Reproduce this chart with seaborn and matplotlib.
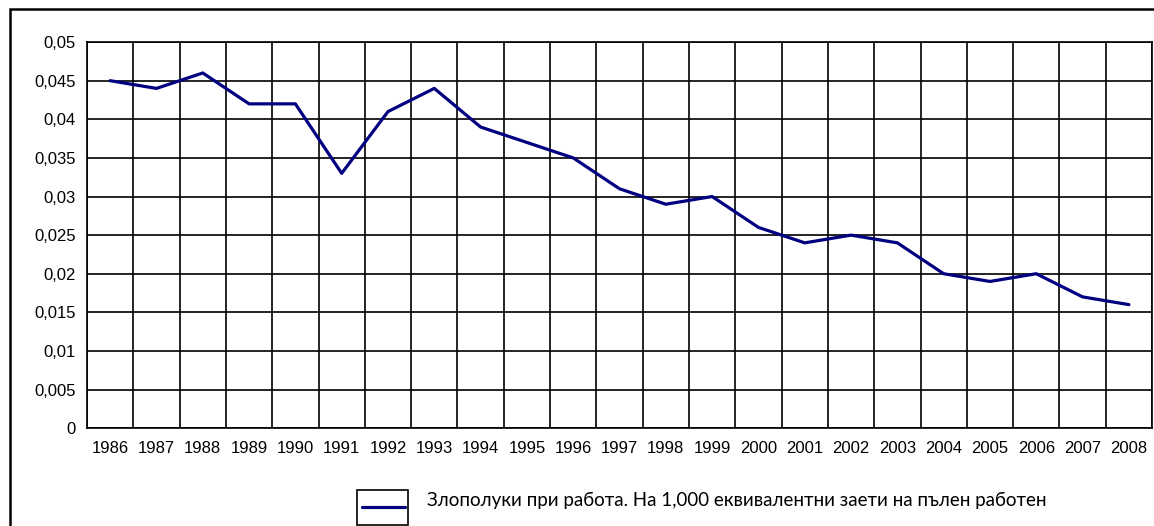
import numpy as np
import pandas as pd
import seaborn as sns
import matplotlib.pyplot as plt
from matplotlib.patches import Rectangle
from matplotlib.lines import Line2D

# data
years = [str(y) for y in range(1986, 2009)]
rate = [0.045, 0.044, 0.046, 0.042, 0.042, 0.033, 0.041, 0.044, 0.039, 0.037,
        0.035, 0.031, 0.029, 0.030, 0.026, 0.024, 0.025, 0.024, 0.020, 0.019,
        0.020, 0.017, 0.016]
y_ticks = [0, 0.005, 0.01, 0.015, 0.02, 0.025, 0.03, 0.035, 0.04, 0.045, 0.05]
y_labels = ["0", "0,005", "0,01", "0,015", "0,02", "0,025", "0,03", "0,035",
            "0,04", "0,045", "0,05"]
series_name = "Злополуки при работа. На 1,000 еквивалентни заети на пълен работен"

df = pd.DataFrame({"pos": np.arange(len(years)), "rate": rate})

sns.set_style("white")
plt.rcParams["font.family"] = ["Liberation Sans", "DejaVu Sans"]
plt.rcParams["text.color"] = "black"
plt.rcParams["xtick.color"] = "black"
plt.rcParams["ytick.color"] = "black"

fig = plt.figure(figsize=(11.54, 5.26), dpi=100)
ax = fig.add_axes([0.0754, 0.186, 0.9229, 0.734])

sns.lineplot(data=df, x="pos", y="rate", ax=ax, color="#000080", linewidth=2.3)

ax.set_xlim(-0.5, len(years) - 0.5)
ax.set_ylim(0, 0.05)

# vertical grid at category boundaries, labels at centers
ax.set_xticks(np.arange(len(years) + 1) - 0.5)
ax.set_xticklabels([])
ax.set_xticks(np.arange(len(years)), minor=True)
ax.set_xticklabels(years, minor=True, fontsize=12)
ax.tick_params(axis="x", which="major", length=5, width=1.2, color="black", direction="out")
ax.tick_params(axis="x", which="minor", length=0, pad=9)

ax.set_yticks(y_ticks)
ax.set_yticklabels(y_labels, fontsize=12)
ax.tick_params(axis="y", length=5, width=1.2, color="black", direction="out", pad=3)

ax.grid(True, which="major", color="black", linewidth=1.2)
ax.set_axisbelow(True)
for s in ax.spines.values():
    s.set_color("black")
    s.set_linewidth(1.2)

ax.set_xlabel("")
ax.set_ylabel("")

# outer chart border
fig.patches.append(Rectangle((10 / 1154, -0.05), 1.2, 1 - 9 / 526 + 0.05,
                             transform=fig.transFigure, fill=False,
                             edgecolor="black", linewidth=1.8))

# legend: box around the sample line, text next to it
fig.patches.append(Rectangle((357 / 1154, 1 - 525 / 526), 51 / 1154, 35 / 526,
                             transform=fig.transFigure, fill=False,
                             edgecolor="black", linewidth=1.2))
fig.lines.append(Line2D([362 / 1154, 405 / 1154], [1 - 507 / 526, 1 - 507 / 526],
                        transform=fig.transFigure, color="#000080", linewidth=2.3))
fig.text(427 / 1154, 1 - 506 / 526, series_name, fontsize=13.5,
         family=["Lato", "DejaVu Sans"], va="baseline", ha="left")

plt.savefig("out.png", dpi=100)
plt.close()
